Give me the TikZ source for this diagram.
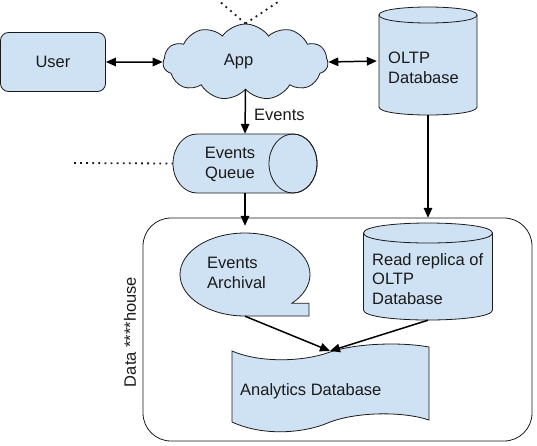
\documentclass[tikz,border=0pt]{standalone}
\usepackage{fontspec}
\setmainfont{Liberation Sans}
\usetikzlibrary{shapes.symbols,arrows.meta}
\definecolor{shapefill}{HTML}{CFE2F3}
\definecolor{ink}{HTML}{1A1A1A}
\begin{document}
\begin{tikzpicture}[x=1pt,y=-1pt,
  every node/.style={font=\fontsize{16.5}{19.5}\selectfont, text=ink},
  shapeline/.style={draw=ink, line width=0.8pt, fill=shapefill},
  outline/.style={draw=ink, line width=0.8pt},
  holder/.style={inner sep=0pt, minimum width=#1},
  conn/.style={draw=black, line width=1.5pt, -{Triangle[length=10pt,width=8.5pt]}},
  bconn/.style={draw=black, line width=1.5pt, {Triangle[length=10pt,width=8.5pt]}-{Triangle[length=10pt,width=8.5pt]}},
  dots/.style={draw=ink, line width=1.8pt, dash pattern=on 1.8pt off 4.3pt},
  txt/.style={inner sep=0pt, align=left, anchor=west}
]
\useasboundingbox (0,0) rectangle (537,445);

% warehouse container
\node[outline, rounded corners=28pt, minimum width=389pt, minimum height=223pt, inner sep=0pt] (dw) at (337.5,329.5) {};
\node[rotate=90, inner sep=0pt] (dwlabel) at (130,332) {Data ****house};

% dotted line ends
\coordinate (dl) at (218,0);
\coordinate (dr) at (281,0);
\coordinate (ql) at (74,163);

% user
\node[shapeline, rounded corners=8pt, minimum width=105pt, minimum height=59pt, inner sep=0pt] (user) at (53,62) {User};

% app cloud
\node[shapeline, cloud, cloud puffs=11, cloud puff arc=110, aspect=2.2, minimum width=165pt, minimum height=76pt, inner sep=0pt] (app) at (245.5,62) {\hspace*{-14pt}App};
\draw[dots] (app.north) -- (dl);
\draw[dots] (app.north) -- (dr);

% OLTP cylinder
\path[shapeline] (379,15) -- (379,107) .. controls (379,117.67) and (477,117.67) .. (477,107) -- (477,15) .. controls (477,4.33) and (379,4.33) .. (379,15) -- cycle;
\draw[outline] (379,15) .. controls (379,25.67) and (477,25.67) .. (477,15);
\node[holder=98pt, minimum height=108pt] (oltp) at (428,61) {};
\node[txt] (oltptext) at (388,68) {OLTP\\Database};

% events queue
\path[shapeline] (197,134) -- (293,134) .. controls (306.25,134) and (317,147.21) .. (317,163.5) .. controls (317,179.79) and (306.25,193) .. (293,193) -- (197,193) .. controls (183.75,193) and (173,179.79) .. (173,163.5) .. controls (173,147.21) and (183.75,134) .. (197,134) -- cycle;
\draw[outline] (293,163.5) ellipse [x radius=24, y radius=29.5];
\node[holder=144pt, minimum height=59pt] (queue) at (245,163.5) {};
\node[inner sep=0pt, align=center] (queuetext) at (230,164.5) {Events\\Queue};
\draw[dots] (ql) -- (queue.west);

% events archival callout
\path[shapeline] (245,316) -- (309,316) -- (309,303.33) -- (291.76,303.33)
  .. controls (303.46,295.59) and (310,285.26) .. (310,274.5)
  .. controls (310,251.58) and (280.9,233) .. (245,233)
  .. controls (209.1,233) and (180,251.58) .. (180,274.5)
  .. controls (180,297.42) and (209.1,316) .. (245,316) -- cycle;
\node[holder=130pt, minimum height=83pt] (archival) at (245,274.5) {};
\node[txt] (archivaltext) at (207,273) {Events\\Archival};

% read replica cylinder
\path[shapeline] (363.5,233) -- (363.5,310) .. controls (363.5,323.33) and (492.5,323.33) .. (492.5,310) -- (492.5,233) .. controls (492.5,219.67) and (363.5,219.67) .. (363.5,233) -- cycle;
\draw[outline] (363.5,233) .. controls (363.5,246.33) and (492.5,246.33) .. (492.5,233);
\node[holder=129pt, minimum height=97pt] (replica) at (428,271.5) {};
\node[txt] (replicatext) at (372,279) {Read replica of\\OLTP\\Database};

% analytics database tape
\path[shapeline] (232,351) .. controls (260,363) and (303,362) .. (330,352) .. controls (357,343) and (402,342) .. (429,347) -- (429,420) .. controls (402,411) and (357,412) .. (330,422) .. controls (303,434) and (262,436) .. (232,422) -- cycle;
\coordinate (atop) at (330,351);
\node[holder=197pt, minimum height=80pt] (analytics) at (330.5,388) {};
\node[txt, anchor=base west] (analyticstext) at (240,395) {Analytics Database};

% connectors
\draw[bconn] (user.east) -- (app.west);
\draw[bconn, shorten >=2pt] (app.east) -- (oltp.west);
\draw[conn] (app.south) -- (queue.north);
\node[txt] (evlabel) at (254,115) {Events};
\draw[conn, shorten >=7pt] (queue.south) -- (archival.north);
\draw[conn, shorten >=5pt] (oltp.south) -- (replica.north);
\draw[conn] (archival.south) -- (atop);
\draw[conn] (replica.south) -- (atop);
\end{tikzpicture}
\end{document}
